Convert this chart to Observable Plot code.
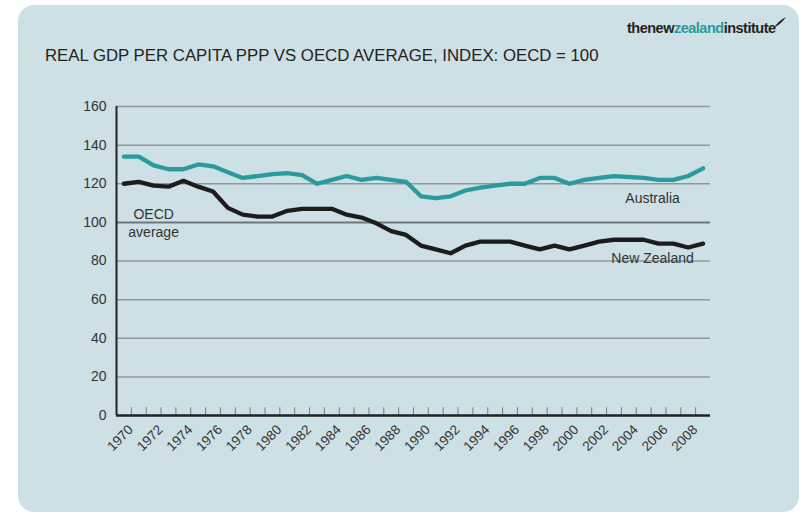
<!DOCTYPE html>
<html><head><meta charset="utf-8">
<script src="https://cdn.jsdelivr.net/npm/d3@7"></script>
<script src="https://cdn.jsdelivr.net/npm/@observablehq/plot@0.6"></script>
<style>
html,body{margin:0;padding:0;background:#fff;}
#wrap{position:relative;width:802px;height:516px;overflow:hidden;font-family:"Liberation Sans",Arial,sans-serif;}
#panel{position:absolute;left:18px;top:5px;width:781px;height:507px;border-radius:16px;background:#cde0e5;}
#title{position:absolute;left:45px;top:47px;font-size:16.8px;color:#222;white-space:nowrap;line-height:18px;}
#logo{position:absolute;left:627px;top:20px;font-size:14.5px;font-weight:bold;letter-spacing:-0.5px;color:#231f20;white-space:nowrap;line-height:17px;}
#logo .z{color:#2a9a9c;}
#swoosh{position:absolute;left:772px;top:16px;}
#chart{position:absolute;left:0;top:0;}
</style></head>
<body>
<div id="wrap">
  <div id="panel"></div>
  <div id="logo">thenew<span class="z">zealand</span>institute</div>
  <svg id="swoosh" width="16" height="14"><path d="M2 12 Q6 5 14 1 Q10 7 2 12Z" fill="#231f20"/></svg>
  <div id="title">REAL GDP PER CAPITA PPP VS OECD AVERAGE, INDEX: OECD = 100</div>
  <div id="chart"></div>
</div>
<script>
const years = [1970,1971,1972,1973,1974,1975,1976,1977,1978,1979,1980,1981,1982,1983,1984,1985,1986,1987,1988,1989,1990,1991,1992,1993,1994,1995,1996,1997,1998,1999,2000,2001,2002,2003,2004,2005,2006,2007,2008,2009];
const australia = [134,134,129.5,127.5,127.5,130,129,126,123,124,125,125.5,124.5,120,122,124,122,123,122,121,113.5,112.5,113.5,116.5,118,119,120,120,123,123,120,122,123,124,123.5,123,122,122,124,128];
const newZealand = [120,121,119,118.5,121.5,118.5,116,107.5,104,103,103,106,107,107,107,104,102.5,99.5,95.5,93.5,88,86,84,88,90,90,90,88,86,88,86,88,90,91,91,91,89,89,87,89];
const yTicks = [0,20,40,60,80,100,120,140,160];
const xTickLabels = [1970,1972,1974,1976,1978,1980,1982,1984,1986,1988,1990,1992,1994,1996,1998,2000,2002,2004,2006,2008];
const labelText = ["OECD\naverage","Australia","New Zealand"];
const labelYear = [1972, 2005.6, 2005.6];
const labelValue = [100, 113, 81.8];

const rows = years.map((year, i) => ({year, au: australia[i], nz: newZealand[i]}));
const tickBounds = years.slice(0, -1).map(y => y + 0.5);
const labels = labelText.map((t, i) => ({t, x: labelYear[i], y: labelValue[i]}));
const grid = yTicks.filter(d => d > 0 && d !== 100);

const chart = Plot.plot({
  width: 802, height: 516,
  marginLeft: 116, marginRight: 92, marginTop: 106, marginBottom: 101,
  style: {background: "transparent", fontFamily: "'Liberation Sans', Arial, sans-serif", color: "#333"},
  x: {domain: [1969.5, 2009.5], axis: null},
  y: {domain: [0, 160], label: null},
  marks: [
    Plot.ruleY(grid, {stroke: "#8e989b", strokeWidth: 1.5}),
    Plot.ruleY([100], {stroke: "#6f777a", strokeWidth: 2}),
    Plot.ruleX(tickBounds, {y1: 0, y2: 4, stroke: "#7a7a7a", strokeWidth: 1}),
    Plot.ruleX([1969.5], {stroke: "#222", strokeWidth: 2}),
    Plot.ruleY([0], {stroke: "#222", strokeWidth: 2.5}),
    Plot.line(rows, {x: "year", y: "au", stroke: "#2a9a9c", strokeWidth: 4.3, strokeLinejoin: "round"}),
    Plot.line(rows, {x: "year", y: "nz", stroke: "#1c1c1c", strokeWidth: 4.3, strokeLinejoin: "round"}),
    Plot.axisY({ticks: yTicks, tickSize: 0, tickPadding: 10, fontSize: 14, fill: "#333", label: null}),
    Plot.text(xTickLabels, {x: d => d, frameAnchor: "bottom", text: d => String(d), rotate: -45, textAnchor: "end", lineAnchor: "bottom", dx: 10, dy: 15, fontSize: 13.5, fill: "#333"}),
    Plot.text(labels, {x: "x", y: "y", text: "t", fontSize: 14, fill: "#333", lineHeight: 1.3, lineAnchor: "middle"})
  ]
});
document.getElementById("chart").appendChild(chart);
</script>
</body></html>
